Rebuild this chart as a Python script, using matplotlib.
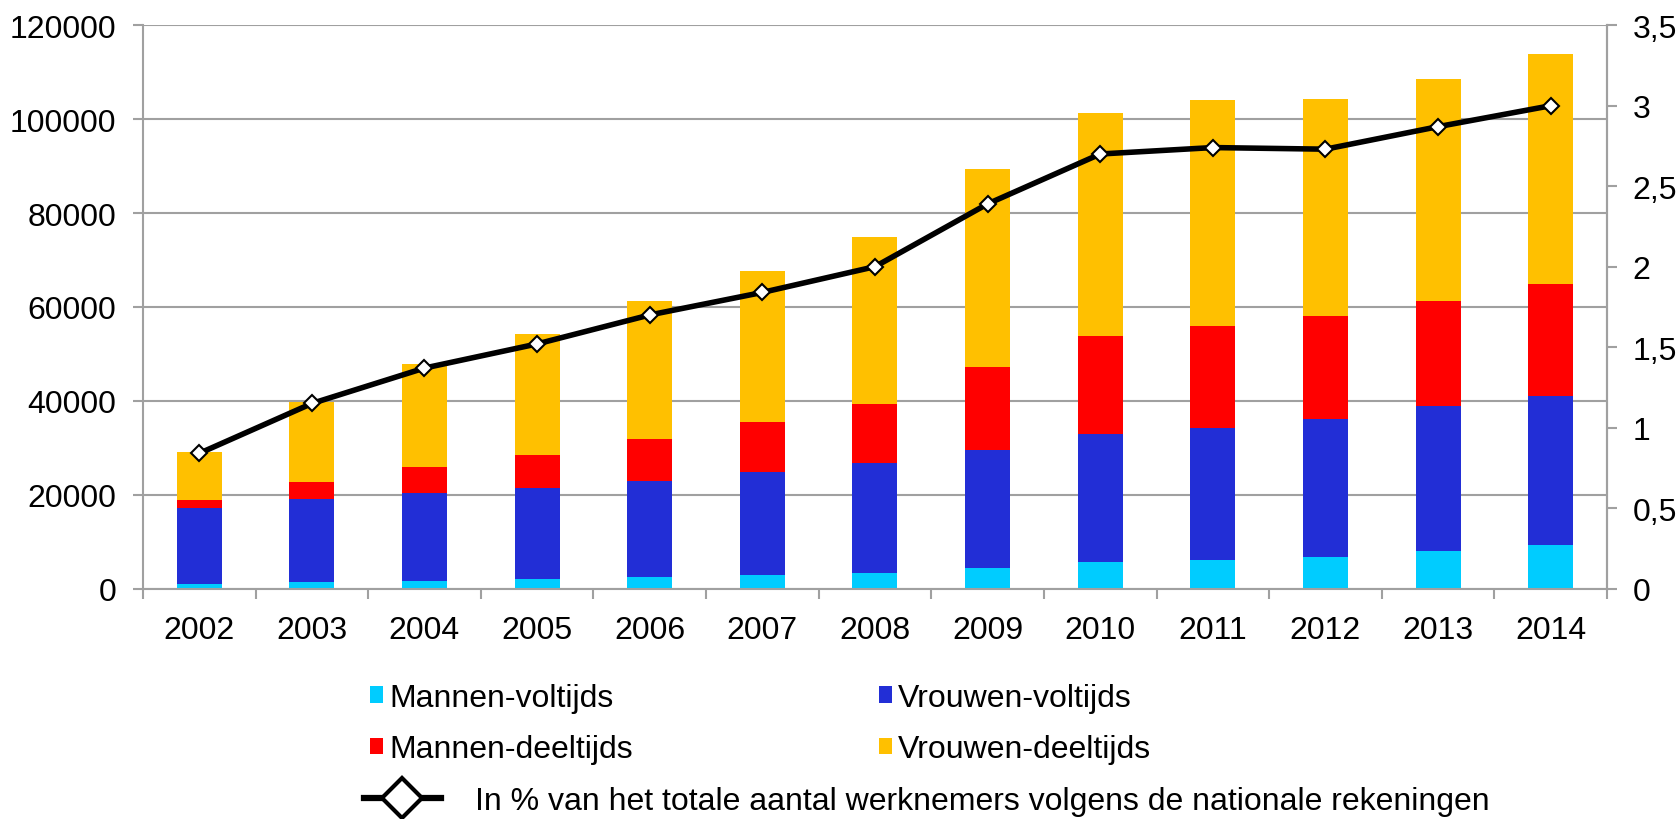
import numpy as np
import matplotlib
matplotlib.use("Agg")
import matplotlib.pyplot as plt
from matplotlib.patches import Patch
from matplotlib.lines import Line2D
from matplotlib.ticker import FuncFormatter

plt.rcParams['font.family'] = ['Liberation Sans', 'DejaVu Sans']

# gegevens
years = ['2002', '2003', '2004', '2005', '2006', '2007', '2008',
         '2009', '2010', '2011', '2012', '2013', '2014']
mannen_voltijds = [1000, 1300, 1650, 1950, 2450, 2950, 3400, 4400, 5600, 6000, 6800, 8100, 9300]
vrouwen_voltijds = [16100, 17850, 18750, 19400, 20450, 21850, 23250, 25100, 27250, 28150, 29350, 30800, 31650]
mannen_deeltijds = [1800, 3500, 5400, 7200, 8950, 10750, 12700, 17800, 21050, 21850, 21850, 22400, 23900]
vrouwen_deeltijds = [10200, 17100, 22100, 25750, 29450, 32100, 35550, 42000, 47350, 48100, 46250, 47300, 49050]
pct_werknemers = [0.84, 1.15, 1.37, 1.52, 1.70, 1.84, 2.00, 2.39, 2.70, 2.74, 2.73, 2.87, 3.00]

series = [
    ('Mannen-voltijds', mannen_voltijds, '#00CCFF'),
    ('Vrouwen-voltijds', vrouwen_voltijds, '#222ED6'),
    ('Mannen-deeltijds', mannen_deeltijds, '#FF0000'),
    ('Vrouwen-deeltijds', vrouwen_deeltijds, '#FFC000'),
]
line_label = 'In % van het totale aantal werknemers volgens de nationale rekeningen'

grid_col = '#A0A0A0'
fs = 23

fig = plt.figure(figsize=(16.81, 8.20), dpi=100)
ax = fig.add_axes([0.085, 0.281, 0.871, 0.687])

x = np.arange(len(years))
bottom = np.zeros(len(years))
for name, vals, col in series:
    ax.bar(x, vals, width=0.4, bottom=bottom, color=col, label=name, zorder=2)
    bottom += np.array(vals)

ax.set_xlim(-0.5, len(years) - 0.5)
ax.set_ylim(0, 120000)
ax.set_yticks(np.arange(0, 120001, 20000))
ax.yaxis.grid(True, color=grid_col, linewidth=1.5)
ax.set_axisbelow(True)

ax.set_xticks(np.arange(-0.5, len(years), 1.0))
ax.set_xticklabels([])
ax.set_xticks(x, minor=True)
ax.set_xticklabels(years, minor=True)
ax.tick_params(axis='x', which='major', length=7, width=1.5, color=grid_col, direction='out')
ax.tick_params(axis='x', which='minor', length=0, pad=19, labelsize=fs)
ax.tick_params(axis='y', length=7, width=1.5, color=grid_col, direction='out', pad=12, labelsize=fs)

for s in ['left', 'bottom', 'right']:
    ax.spines[s].set_color(grid_col)
    ax.spines[s].set_linewidth(1.5)
ax.spines['top'].set_visible(False)

ax2 = ax.twinx()
ax2.plot(x, pct_werknemers, color='black', linewidth=4, marker='D', markersize=8,
         markerfacecolor='white', markeredgecolor='black', markeredgewidth=1.5, zorder=5)
ax2.set_ylim(0, 3.5)
ax2.set_yticks(np.arange(0, 3.51, 0.5))
ax2.yaxis.set_major_formatter(FuncFormatter(lambda v, p: ('%g' % v).replace('.', ',')))
ax2.tick_params(axis='y', length=7, width=1.5, color=grid_col, direction='out', pad=11.5, labelsize=fs)
for s in ['left', 'bottom', 'right', 'top']:
    ax2.spines[s].set_visible(False)
ax2.spines['right'].set_visible(True)
ax2.spines['right'].set_color(grid_col)
ax2.spines['right'].set_linewidth(1.5)

# legenda
def patch(col):
    return Patch(facecolor=col, edgecolor='none')

leg_kw = dict(frameon=False, fontsize=fs, borderpad=0, borderaxespad=0,
              handlelength=0.42, handleheight=0.42, handletextpad=0.18, labelspacing=0.68)
leg1 = fig.legend([patch(series[0][2]), patch(series[2][2])], [series[0][0], series[2][0]],
                  loc='center left', bbox_to_anchor=(370 / 1681, 1 - 724.5 / 820), **leg_kw)
leg2 = fig.legend([patch(series[1][2]), patch(series[3][2])], [series[1][0], series[3][0]],
                  loc='center left', bbox_to_anchor=(879 / 1681, 1 - 724.5 / 820), **leg_kw)
line_handle = Line2D([], [], color='black', linewidth=4.5, marker='D', markersize=20,
                     markerfacecolor='white', markeredgecolor='black', markeredgewidth=3)
leg3 = fig.legend([line_handle], [line_label], loc='center left',
                  bbox_to_anchor=(364 / 1681, 1 - 802 / 820), frameon=False, fontsize=fs,
                  borderpad=0, borderaxespad=0, handlelength=2.4, handletextpad=1.06)

fig.savefig('out.png', dpi=100)
